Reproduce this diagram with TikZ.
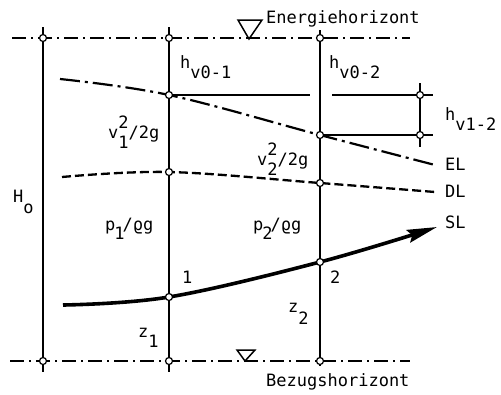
\documentclass[tikz,border=0pt]{standalone}
\usepackage{fontspec}
\newfontfamily\lblfont{DejaVu Sans Mono}
\usetikzlibrary{arrows.meta}
\tikzset{
  lbl/.style={anchor=base west, inner sep=0pt, font=\lblfont\fontsize{17}{20}\selectfont},
  horizon/.style={line width=1.5pt, dash pattern=on 14pt off 5pt on 2pt off 5pt},
  vline/.style={line width=1.8pt},
  thin/.style={line width=1.3pt},
  ELline/.style={line width=2.2pt, dash pattern=on 20pt off 5pt on 3pt off 5pt},
  DLline/.style={line width=2.3pt, dash pattern=on 9pt off 4pt},
  SLline/.style={line width=3.6pt},
  pt/.style={circle, draw, fill=white, line width=1.2pt, minimum size=7pt, inner sep=0pt},
  tri/.style={line width=1.5pt, line join=miter},
}
\begin{document}
\begin{tikzpicture}[x=1pt,y=-1pt]
\useasboundingbox (0,0) rectangle (501,394);
% coordinates
\coordinate (tl) at (12,38);   \coordinate (tr) at (410,38);
\coordinate (bl) at (10,361);  \coordinate (br) at (410,361);
\coordinate (v0t) at (43,27);  \coordinate (v0b) at (43,372);
\coordinate (v1t) at (169,27); \coordinate (v1b) at (169,372);
\coordinate (v2t) at (320,30); \coordinate (v2b) at (320,366);
% horizons
\draw[horizon] (tl) -- (tr);
\draw[horizon] (bl) -- (br);
% verticals
\draw[vline] (v0t) -- (v0b);
\draw[vline] (v1t) -- (v1b);
\draw[vline] (v2t) -- (v2b);
% h_v lines
\coordinate (e1) at (169,95);
\coordinate (g1) at (310,95);
\coordinate (g2) at (332,95);
\coordinate (e1r) at (433,95);
\coordinate (e2) at (320,135);
\coordinate (e2r) at (433,135);
\coordinate (hvt) at (420,83);
\coordinate (hvb) at (420,147);
\draw[thin] (e1) -- (g1);
\draw[thin] (g2) -- (e1r);
\draw[thin] (e2) -- (e2r);
\draw[vline] (hvt) -- (hvb);
% EL
\draw[ELline] plot[smooth, tension=0.6] coordinates {(60,79) (169,95) (320,135) (435,165)};
% DL
\draw[DLline] plot[smooth, tension=0.6] coordinates {(62,177) (169,172) (320,183) (435,192)};
% SL
\draw[SLline, -{Stealth[length=30pt, width=13pt, inset=4pt]}] plot[smooth, tension=0.6] coordinates {(63,305) (169,297) (320,262) (437,227)};
% triangles
\draw[tri] (238,20) -- (262,20) -- (249,39) -- cycle;
\draw[tri] (237,350) -- (255,350) -- (245,361) -- cycle;
% points
\node[pt] (p01) at (43,38) {};
\node[pt] (p02) at (169,38) {};
\node[pt] (p03) at (320,38) {};
\node[pt] (p11) at (43,361) {};
\node[pt] (p12) at (169,361) {};
\node[pt] (p13) at (320,361) {};
\node[pt] (pe1) at (169,95) {};
\node[pt] (pe2) at (320,135) {};
\node[pt] (pd1) at (169,172) {};
\node[pt] (pd2) at (320,183) {};
\node[pt] (ps1) at (169,297) {};
\node[pt] (ps2) at (320,262) {};
\node[pt] (ph1) at (420,95) {};
\node[pt] (ph2) at (420,135) {};
% labels
\node[lbl] (eh) at (266,23) {Energiehorizont};
\node[lbl] (bh) at (266,386) {Bezugshorizont};
\node[lbl] (hv01) at (180,68) {h\raisebox{-10pt}{v0-1}};
\node[lbl] (hv02) at (329,68) {h\raisebox{-10pt}{v0-2}};
\node[lbl] (hv12) at (445,120) {h\raisebox{-10pt}{v1-2}};
\node[lbl] (vv1) at (108,138) {v\rlap{\raisebox{10pt}{2}}\raisebox{-10pt}{1}/2g};
\node[lbl] (vv2) at (257,165) {v\rlap{\raisebox{10pt}{2}}\raisebox{-10pt}{2}/2g};
\node[lbl] (pp1) at (105,230) {p\kern-1pt\raisebox{-9pt}{1}\kern-2pt/ϱg};
\node[lbl] (pp2) at (253,230) {p\kern-1pt\raisebox{-9pt}{2}\kern-2pt/ϱg};
\node[lbl] (zz1) at (138,337) {z\raisebox{-10pt}{1}};
\node[lbl] (zz2) at (288,312) {z\raisebox{-12pt}{2}};
\node[lbl] (Ho) at (13,202) {H\raisebox{-11pt}{o}};
\node[lbl] (n1) at (182,283) {1};
\node[lbl] (n2) at (330,283) {2};
\node[lbl] (EL) at (445,170) {EL};
\node[lbl] (DL) at (445,197) {DL};
\node[lbl] (SL) at (445,228) {SL};
\end{tikzpicture}
\end{document}
